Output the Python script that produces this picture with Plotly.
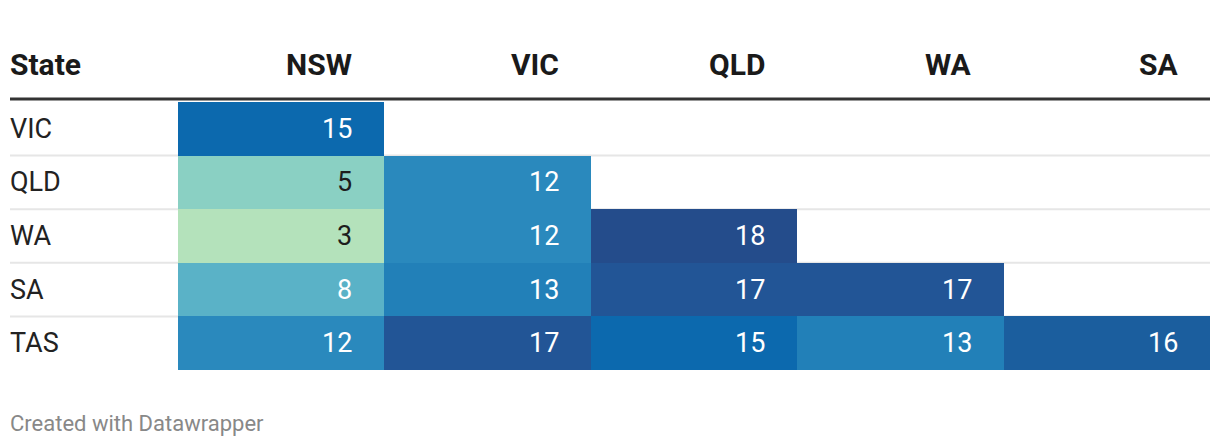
import plotly.graph_objects as go

# ---- data ----
columns = ["NSW", "VIC", "QLD", "WA", "SA"]
rows = ["VIC", "QLD", "WA", "SA", "TAS"]
row_header = "State"
vic_row = [15, None, None, None, None]
qld_row = [5, 12, None, None, None]
wa_row = [3, 12, 18, None, None]
sa_row = [8, 13, 17, 17, None]
tas_row = [12, 17, 15, 13, 16]
footer = "Created with Datawrapper"

matrix = [vic_row, qld_row, wa_row, sa_row, tas_row]

# ---- style ----
W, H = 1220, 446
FONT = "Roboto"
scale_vals = [3, 5, 8, 12, 13, 15, 16, 17, 18]
scale_cols = ["#b4e2bb", "#8ad0c3", "#5ab2c7", "#2a89bd", "#2280b8",
              "#0c69ae", "#1b5e9e", "#225596", "#244c8b"]
zmin, zmax = 3, 18
colorscale = [[(v - zmin) / (zmax - zmin), c] for v, c in zip(scale_vals, scale_cols)]

x0_px, x1_px = 178, 1210
top_px, bot_px = 102, 370
LEFT = 8


def py(px):
    return 1 - px / H


fig = go.Figure()
fig.add_trace(go.Heatmap(
    z=matrix, x=columns, y=rows,
    colorscale=colorscale, zmin=zmin, zmax=zmax,
    showscale=False, hoverongaps=False, xgap=0, ygap=0,
))

annotations = []
# cell values
for r, rowname in enumerate(rows):
    for c, colname in enumerate(columns):
        v = matrix[r][c]
        if v is None:
            continue
        color = "#1d1d1d" if v <= 5 else "#ffffff"
        annotations.append(dict(
            x=c + 0.5, y=rowname, xref="x", yref="y", text=str(v),
            showarrow=False, xanchor="right", xshift=-30,
            font=dict(family=FONT, size=27, color=color)))
    # row labels
    annotations.append(dict(
        x=LEFT / W, y=rowname, xref="paper", yref="y", text=rowname,
        showarrow=False, xanchor="left",
        font=dict(family=FONT, size=27, color="#222222")))

# header
header_y = py(65)
annotations.append(dict(
    x=LEFT / W, y=header_y, xref="paper", yref="paper", text="<b>%s</b>" % row_header,
    showarrow=False, xanchor="left", yanchor="middle",
    font=dict(family=FONT, size=30, color="#1a1a1a")))
for c, colname in enumerate(columns):
    annotations.append(dict(
        x=c + 0.5, y=header_y, xref="x", yref="paper", text="<b>%s</b>" % colname,
        showarrow=False, xanchor="right", yanchor="middle", xshift=-30,
        font=dict(family=FONT, size=30, color="#1a1a1a")))

# footer
annotations.append(dict(
    x=LEFT / W, y=py(423), xref="paper", yref="paper", text=footer,
    showarrow=False, xanchor="left", yanchor="middle",
    font=dict(family=FONT, size=22, color="#888888")))

shapes = [dict(type="line", xref="paper", yref="paper",
               x0=10 / W, x1=1210 / W, y0=py(99), y1=py(99),
               line=dict(color="#333333", width=3))]
row_h = (bot_px - top_px) / len(rows)
for i in range(1, len(rows)):
    yy = top_px + i * row_h
    shapes.append(dict(type="line", xref="paper", yref="paper",
                       x0=10 / W, x1=1210 / W, y0=py(yy), y1=py(yy),
                       layer="below", line=dict(color="#e6e6e6", width=2)))

fig.update_layout(
    width=W, height=H,
    margin=dict(l=0, r=0, t=0, b=0),
    paper_bgcolor="white", plot_bgcolor="white",
    xaxis=dict(domain=[x0_px / W, x1_px / W], visible=False,
               categoryorder="array", categoryarray=columns, fixedrange=True),
    yaxis=dict(domain=[py(bot_px), py(top_px)], visible=False,
               categoryorder="array", categoryarray=rows, autorange="reversed",
               fixedrange=True),
    annotations=annotations, shapes=shapes,
    font=dict(family=FONT),
)

fig.write_html("out.html", config={"displayModeBar": False},
               post_script="document.body.style.margin='0';document.body.style.overflow='hidden';")
